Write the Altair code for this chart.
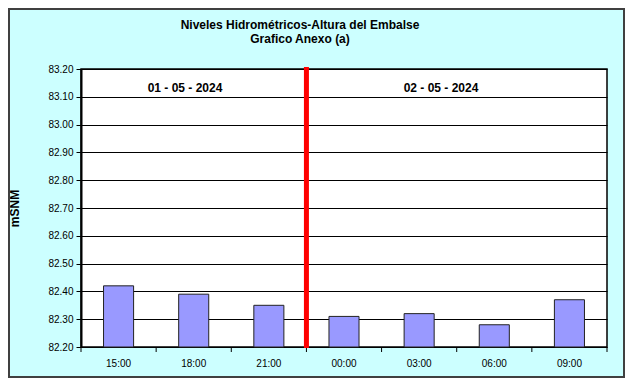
import altair as alt
import pandas as pd

hours = ["15:00", "18:00", "21:00", "00:00", "03:00", "06:00", "09:00"]
levels = [82.42, 82.39, 82.35, 82.31, 82.32, 82.28, 82.37]
y_ticks = [82.20, 82.30, 82.40, 82.50, 82.60, 82.70, 82.80, 82.90, 83.00, 83.10, 83.20]
day_labels = ["01 - 05 - 2024", "02 - 05 - 2024"]
day_change = ["00:00"]
title_lines = ["Niveles Hidrométricos-Altura del Embalse", "Grafico Anexo (a)"]

df = pd.DataFrame({"hora": hours, "nivel": levels})
W, H = 526, 278

xscale = alt.Scale(domain=hours, paddingInner=0, paddingOuter=0)
yscale = alt.Scale(domain=[82.2, 83.2], nice=False, zero=False)

bars = alt.Chart(df).mark_bar(color="#9999FF", stroke="#222222", strokeWidth=1,
                              width=alt.RelativeBandSize(0.4)).encode(
    x=alt.X("hora:N", sort=hours, scale=xscale,
            axis=alt.Axis(title=None, labelAngle=0, ticks=False, domain=False,
                          labelFontSize=10, labelFont="Liberation Sans", labelColor="black",
                          labelPadding=11)),
    y=alt.Y("nivel:Q", scale=yscale,
            axis=alt.Axis(title="mSNM", values=y_ticks, format=".2f", grid=True,
                          gridColor="black", gridWidth=1, domainColor="black", domainWidth=2,
                          tickColor="black", tickSize=5, labelFontSize=10,
                          labelFont="Liberation Sans", labelColor="black", labelPadding=3,
                          titleFont="Liberation Sans", titleFontSize=12, titleFontWeight="bold",
                          titleColor="black", titlePadding=26)),
    y2=alt.datum(82.2),
)

xticks = alt.Chart(pd.DataFrame({"hora": hours})).mark_rule(color="black", strokeWidth=1).encode(
    x=alt.X("hora:N", sort=hours, bandPosition=0),
    y=alt.value(H), y2=alt.value(H + 5),
)
last_tick = alt.Chart(pd.DataFrame({"hora": hours[-1:]})).mark_rule(color="black", strokeWidth=1).encode(
    x=alt.X("hora:N", sort=hours, bandPosition=1),
    y=alt.value(H), y2=alt.value(H + 5),
)

redline = alt.Chart(pd.DataFrame({"hora": day_change})).mark_rule(color="#FF0000", strokeWidth=5).encode(
    x=alt.X("hora:N", sort=hours, bandPosition=0),
    y=alt.value(-2), y2=alt.value(H + 1),
)

txt = dict(font="Liberation Sans", fontWeight="bold", color="black", baseline="middle")
day1 = alt.Chart(pd.DataFrame({"t": day_labels[:1]})).mark_text(fontSize=12, **txt).encode(
    text="t:N", x=alt.value(104), y=alt.value(19))
day2 = alt.Chart(pd.DataFrame({"t": day_labels[1:]})).mark_text(fontSize=12, **txt).encode(
    text="t:N", x=alt.value(360), y=alt.value(19))

title1 = alt.Chart(pd.DataFrame({"t": title_lines[:1]})).mark_text(fontSize=12, **txt).encode(
    text="t:N", x=alt.value(219), y=alt.value(-44))
title2 = alt.Chart(pd.DataFrame({"t": title_lines[1:]})).mark_text(fontSize=12, **txt).encode(
    text="t:N", x=alt.value(219), y=alt.value(-30))

border = alt.Chart(pd.DataFrame({"a": [0]})).mark_rect(
    fill=None, stroke="#404040", strokeWidth=2, clip=False
).encode(x=alt.value(-72), x2=alt.value(543), y=alt.value(-60), y2=alt.value(308))

chart = alt.layer(bars, xticks, last_tick, redline, day1, day2, title1, title2, border).properties(
    width=W, height=H,
    background="#CCFFFF",
    padding={"left": 73, "top": 61, "right": 18, "bottom": 31},
    autosize=alt.AutoSizeParams(type="none"),
).configure_view(stroke="black", strokeWidth=1.5, fill="white")

chart.save("out.html", embed_options={"renderer": "svg", "actions": False})
